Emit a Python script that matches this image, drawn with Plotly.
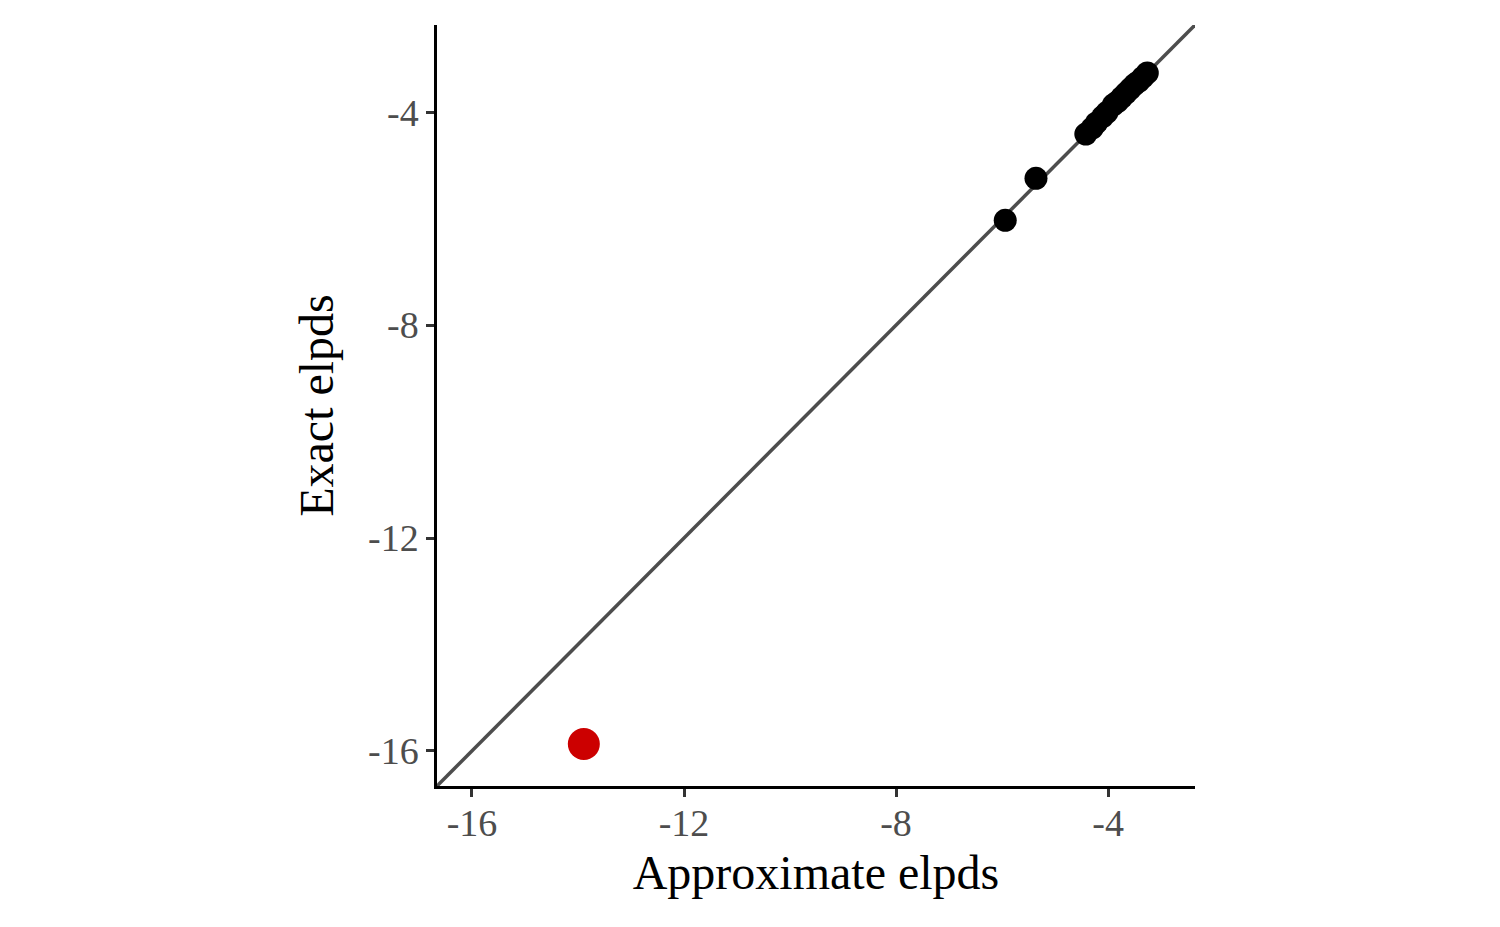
import plotly.graph_objects as go

# Data
approx_elpd = [-4.42, -4.30, -4.22, -4.10, -4.02, -3.90, -3.82, -3.74, -3.66, -3.58, -3.50, -3.42, -3.34, -3.26, -5.94, -5.36]
exact_elpd  = [-4.41, -4.30, -4.20, -4.08, -4.00, -3.86, -3.80, -3.72, -3.64, -3.56, -3.48, -3.42, -3.34, -3.26, -6.03, -5.24]
outlier_approx = [-13.89]
outlier_exact = [-15.87]

tick_vals = [-16, -12, -8, -4]
tick_text = ["-16", "-12", "-8", "-4"]
axis_range = [-16.66, -2.36]

FONT = "Liberation Serif"

fig = go.Figure()
fig.add_trace(go.Scatter(x=axis_range, y=axis_range, mode="lines",
                         line=dict(color="#4D4D4D", width=3.5), hoverinfo="skip", showlegend=False))
fig.add_trace(go.Scatter(x=approx_elpd, y=exact_elpd, mode="markers",
                         marker=dict(color="black", size=23, line=dict(width=0)), showlegend=False))
fig.add_trace(go.Scatter(x=outlier_approx, y=outlier_exact, mode="markers",
                         marker=dict(color="#CC0000", size=32, line=dict(width=0)), showlegend=False))

axis_common = dict(range=axis_range, tickvals=tick_vals, ticktext=tick_text,
                   showgrid=False, zeroline=False, showline=True, linecolor="black", linewidth=2.5,
                   ticks="outside", ticklen=8, tickwidth=2.5, tickcolor="#333333",
                   tickfont=dict(family=FONT, size=38, color="#4D4D4D"))

fig.update_layout(
    width=1500, height=927,
    paper_bgcolor="white", plot_bgcolor="white",
    margin=dict(l=429, r=313, t=17, b=149),
    xaxis=dict(**axis_common, ticklabelstandoff=-6,
               title=dict(text="Approximate elpds", font=dict(family=FONT, size=48, color="black"), standoff=13)),
    yaxis=dict(**axis_common, title=dict(text="Exact elpds", font=dict(family=FONT, size=48, color="black"), standoff=20)),
)
fig.update_xaxes(automargin=False)
fig.update_yaxes(automargin=False)

fig.write_html("out.html")
